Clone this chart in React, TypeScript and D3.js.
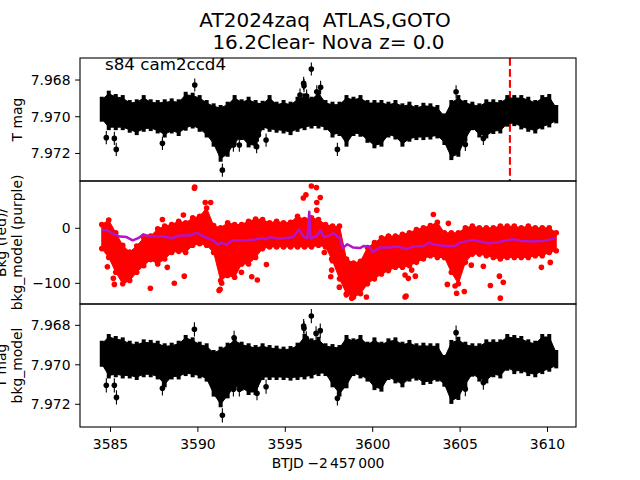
import React from "react";
import * as d3 from "d3";

const bandTimes = [3584.5,3584.9,3585.3,3585.7,3586.1,3586.5,3586.9,3587.3,3587.7,3588.1,3588.5,3588.9,3589.3,3589.7,3590.1,3590.5,3590.9,3591.3,3591.7,3592.1,3592.5,3592.9,3593.3,3593.7,3594.1,3594.5,3594.9,3595.3,3595.7,3596.1,3596.5,3596.9,3597.3,3597.7,3598.1,3598.5,3598.9,3599.3,3599.7,3600.1,3600.5,3600.9,3601.3,3601.7,3602.1,3602.5,3602.9,3603.3,3603.7,3604.1,3604.5,3604.9,3605.3,3605.7,3606.1,3606.5,3606.9,3607.3,3607.7,3608.1,3608.5,3608.9,3609.3,3609.7,3610.1,3610.5];

// T mag, millimag offsets from 7.970
const magBase = 7.97;
const tmagUpper = [-1.09,-1.42,-1.24,-1.18,-.91,-.95,-1.18,-.95,-.91,-.95,-1.0,-.95,-1.36,-1.31,-1.18,-.91,-.73,-.64,-.82,-1.18,-.95,-1.09,-.91,-.87,-1.18,-.82,-.91,-.82,-1.09,-1.27,-1.09,-1.45,-.91,-.82,-.82,-1.18,-1.09,-1.18,-.91,-.91,-.91,-.82,-.91,-.73,-.82,-.64,-.76,-.73,-.64,-.18,-.91,-1.18,-.91,-.82,-.73,-.95,-.95,-.91,-1.18,-1.18,-1.18,-1.09,-.91,-1.18,-1.24,-.64];
const tmagLower = [.27,.73,.73,.73,.87,1.0,.82,.78,.91,1.13,.91,1.05,.76,.64,.82,1.13,1.63,2.45,2.18,1.54,1.27,1.67,1.72,.73,.82,.87,.91,1.0,.82,.73,.64,.64,.73,1.13,1.05,1.63,1.05,1.09,1.42,1.72,1.63,1.13,1.24,1.63,1.36,1.27,1.27,1.24,1.18,1.54,2.36,2.18,1.36,.73,1.13,1.18,.94,.91,.54,.51,.69,.82,.91,.69,.58,.36];
const tmagOutT = [3589.82,3596.49,3596.05,3596.07,3595.84,3596.22,3596.8,3597.02,3584.76,3585.22,3585.33,3587.97,3591.4,3592.03,3592.37,3593.46,3593.36,3593.9,3597.98,3605.3,3604.9,3604.77,3606.33];
const tmagOutV = [-1.73,-2.6,-1.82,-1.69,-1.18,-1.13,-1.36,-1.6,1.14,1.18,1.78,1.45,2.91,1.54,1.54,1.0,1.63,1.27,1.78,1.51,1.63,-1.36,1.18];

// Background flux
const bkgUpper = [12,20,-3,-26,-38,-27,-12,-9,4,9,12,18,15,24,27,42,10,6,15,12,12,18,22,21,15,18,15,16,27,21,24,21,12,9,9,-51,-58,-55,-30,-21,-12,-9,-9,-6,-3,3,6,10,16,-3,-3,-3,6,9,6,6,6,9,9,9,6,9,6,6,6,-3];
const bkgLower = [-42,-58,-85,-106,-100,-85,-73,-62,-70,-61,-49,-47,-49,-36,-33,-36,-49,-100,-91,-94,-70,-70,-58,-42,-39,-39,-39,-39,-39,-39,-39,-36,-39,-64,-97,-124,-130,-124,-106,-97,-88,-82,-76,-76,-73,-67,-61,-55,-58,-58,-85,-106,-67,-52,-52,-55,-58,-61,-58,-58,-58,-58,-55,-55,-49,-46];
const bkgOutT = [3589.8,3589.82,3596.49,3596.78,3597.0,3596.18,3596.03,3596.8,3596.8,3590.42,3590.73,3587.97,3589.17,3587.28,3588.65,3589.22,3585.16,3585.22,3584.82,3591.21,3591.27,3591.36,3593.08,3593.4,3593.92,3592.49,3597.23,3597.65,3597.65,3597.6,3598.09,3588.25,3603.47,3604.33,3598.49,3598.8,3599.64,3601.91,3601.85,3604.27,3605.24,3604.8,3604.71,3605.64,3606.33,3606.73,3607.25,3607.47,3607.3,3609.65,3610.16,3601.85,3602.04,3602.44,3602.23];
const bkgOutV = [73,75,77,74,56,61,55,47,33,47,47,16,24,-109,-100,-87,-91,-102,-70,-113,-111,-100,-88,-94,-66,-80,-44,-56,-76,-88,-107,-71,25,9,-121,-127,-125,-123,-125,-102,-115,-118,-105,-67,-69,-104,-87,-98,-127,-71,-62,-85,-91,-87,-76];
const modelT = [3584.5,3584.78,3585.16,3585.54,3585.92,3586.27,3586.59,3586.88,3587.16,3587.64,3588.02,3588.5,3588.98,3589.55,3589.93,3590.41,3590.88,3591.17,3591.36,3591.65,3591.93,3592.31,3592.6,3593.17,3593.65,3593.84,3594.12,3594.7,3595.46,3595.78,3596.07,3596.26,3596.37,3596.45,3596.8,3597.02,3597.21,3597.46,3597.75,3598.13,3598.28,3598.55,3598.89,3599.27,3599.5,3599.85,3600.0,3600.42,3600.99,3601.47,3601.94,3602.33,3602.9,3603.24,3603.56,3604.23,3604.71,3605.0,3605.76,3606.14,3606.62,3607.09,3607.47,3608.05,3608.52,3609.19,3609.66,3610.05,3610.43];
const modelV = [-3,-3,-10,-15,-16,-22,-18,-11,-14,-15,-15,-18,-13,-13,-8,-16,-22,-30,-26,-30,-22,-22,-22,-21,-18,-20,-16,-19,-16,-2,-16,-18,30,-18,-14,-3,-16,-14,-9,-18,-36,-29,-35,-36,-32,-35,-43,-35,-35,-33,-38,-33,-32,-26,-30,-32,-32,-26,-21,-24,-27,-26,-23,-20,-23,-24,-23,-21,-18];

// T mag minus model, millimag offsets from 7.970
const corrUpper = [-1.22,-1.56,-1.46,-1.39,-1.22,-1.17,-1.29,-1.26,-1.22,-1.09,-1.12,-1.22,-1.51,-1.39,-1.17,-1.09,-.75,-.92,-1.12,-1.39,-1.17,-1.09,-1.0,-1.09,-1.0,-.97,-.92,-.95,-1.12,-1.56,-1.34,-1.42,-1.09,-1.05,-1.0,-1.51,-1.34,-1.51,-1.17,-1.39,-1.17,-1.34,-1.39,-1.17,-1.26,-1.09,-1.12,-1.09,-1.09,-.5,-1.26,-1.42,-1.17,-1.09,-1.09,-1.29,-1.29,-1.29,-1.56,-1.51,-1.46,-1.29,-1.22,-1.56,-1.56,-.75];
const corrLower = [.10,.69,.63,.69,.69,.77,.63,.63,.74,1.14,.74,.74,.57,.63,.69,.85,1.61,2.15,1.70,1.24,1.31,1.53,1.53,.77,.77,.77,.77,.80,.77,.74,.69,.57,.57,1.14,1.61,1.19,.57,.69,.85,1.28,1.36,.77,.94,1.14,.85,.80,1.02,.97,.85,1.11,1.98,1.78,1.14,.60,.85,.94,.63,.69,.30,.47,.43,.57,.63,.47,.35,.18];
const corrOutT = [3589.8,3596.49,3596.05,3596.07,3596.2,3596.76,3597.0,3592.07,3584.76,3585.22,3585.34,3587.97,3591.4,3592.03,3592.37,3593.38,3593.46,3593.9,3597.98,3604.77,3605.3,3604.9,3606.33];
const corrOutV = [-1.8,-2.47,-1.96,-1.85,-1.34,-1.59,-1.73,-1.37,1.04,1.04,1.65,1.19,2.56,1.24,1.24,1.44,.77,1.11,1.7,-1.63,1.23,1.24,.9];

const outlierErr = 0.36;
const eventTime = 3607.85;
const magTicks = [7.968, 7.97, 7.972];
const bkgTicks = [0, -100];
const xTicks = [3585, 3590, 3595, 3600, 3605, 3610];
const titleLines = ["AT2024zaq  ATLAS,GOTO", "16.2Clear- Nova z= 0.0"];
const FONT = "'DejaVu Sans'";

const L = 80, R = 576;
const DOT = 2.8;
const TOOTH = 3;
const x = d3.scaleLinear().domain([3583.255, 3611.63]).range([L, R]);
const y1 = d3.scaleLinear().domain([7.9668, 7.9735]).range([58, 181]);
const y2 = d3.scaleLinear().domain([86, -137.6]).range([181, 304]);
const y3 = d3.scaleLinear().domain([7.96692, 7.97315]).range([304, 427]);

function YAxis({ scale, ticks, fmt }: any) {
  return (
    <g>
      {ticks.map((t: number) => (
        <g key={t}>
          <line x1={L - 4.9} x2={L} y1={scale(t)} y2={scale(t)} stroke="#000" strokeWidth={1} />
          <text x={L - 9.5} y={scale(t) + 5} textAnchor="end" fontSize={13.9}>{fmt(t)}</text>
        </g>
      ))}
    </g>
  );
}

function MagBand({ scale, upper, lower, outT, outV }: any) {
  const area = d3.area<number>()
    .x((t) => x(t))
    .y0((_, i) => scale(magBase + upper[i] / 1000) + TOOTH)
    .y1((_, i) => scale(magBase + lower[i] / 1000) - TOOTH);
  return (
    <g>
      <path d={area(bandTimes) || ""} fill="#000" stroke="#000" strokeWidth={1} strokeLinejoin="round" />
      {bandTimes.map((t: number, i: number) => (
        <line key={i} x1={x(t)} x2={x(t)} stroke="#000" strokeWidth={4}
          y1={scale(magBase + upper[i] / 1000)}
          y2={scale(magBase + lower[i] / 1000)} />
      ))}
      {outT.map((t: number, i: number) => (
        <g key={i}>
          <line x1={x(t)} x2={x(t)} stroke="#000" strokeWidth={1.1}
            y1={scale(magBase + (outV[i] - outlierErr) / 1000)}
            y2={scale(magBase + (outV[i] + outlierErr) / 1000)} />
          <circle cx={x(t)} cy={scale(magBase + outV[i] / 1000)} r={2.8} fill="#000" />
        </g>
      ))}
    </g>
  );
}

export default function App() {
  const bkgArea = d3.area<number>()
    .x((t) => x(t))
    .y0((_, i) => y2(bkgUpper[i]) + DOT)
    .y1((_, i) => y2(bkgLower[i]) - DOT);
  const modelLine = d3.line<number>().x((t) => x(t)).y((_, i) => y2(modelV[i]));
  const panels: [number, number][] = [[58, 123], [181, 123], [304, 123]];
  return (
    <svg width={640} height={480} style={{ position: "absolute", left: 0, top: 0 }} fontFamily={FONT} fill="#000">
      <rect width={640} height={480} fill="#fff" />
      <text x={325} y={27} textAnchor="middle" fontSize={20} style={{ whiteSpace: "pre" }}>{titleLines[0]}</text>
      <text x={328.5} y={49} textAnchor="middle" fontSize={20} style={{ whiteSpace: "pre" }}>{titleLines[1]}</text>

      <line x1={x(eventTime)} x2={x(eventTime)} y1={58} y2={181} stroke="#f00" strokeWidth={2.1} strokeDasharray="7.7 3.3" />
      <MagBand scale={y1} upper={tmagUpper} lower={tmagLower} outT={tmagOutT} outV={tmagOutV} />
      <text x={105} y={70} fontSize={16.7}>s84 cam2ccd4</text>

      <path d={bkgArea(bandTimes) || ""} fill="#f00" stroke="#f00" strokeWidth={1} strokeLinejoin="round" />
      {bandTimes.map((t, i) => (
        <g key={i}>
          <circle cx={x(t)} cy={y2(bkgUpper[i]) + DOT} r={DOT} fill="#f00" />
          <circle cx={x(t)} cy={y2(bkgLower[i]) - DOT} r={DOT} fill="#f00" />
        </g>
      ))}
      {bkgOutT.map((t, i) => (
        <circle key={i} cx={x(t)} cy={y2(bkgOutV[i])} r={DOT} fill="#f00" />
      ))}
      <path d={modelLine(modelT) || ""} fill="none" stroke="#b414c8" strokeWidth={2.5} strokeLinejoin="round" />

      <MagBand scale={y3} upper={corrUpper} lower={corrLower} outT={corrOutT} outV={corrOutV} />

      {panels.map(([t, h]) => (
        <rect key={t} x={L} y={t} width={R - L} height={h} fill="none" stroke="#000" strokeWidth={1.1} />
      ))}
      <YAxis scale={y1} ticks={magTicks} fmt={(v: number) => v.toFixed(3)} />
      <YAxis scale={y2} ticks={bkgTicks} fmt={(v: number) => (v < 0 ? "\u2212" + Math.abs(v) : String(v))} />
      <YAxis scale={y3} ticks={magTicks} fmt={(v: number) => v.toFixed(3)} />
      {xTicks.map((t) => (
        <g key={t}>
          <line x1={x(t)} x2={x(t)} y1={427} y2={431.9} stroke="#000" strokeWidth={1} />
          <text x={x(t)} y={449} textAnchor="middle" fontSize={13.9}>{t}</text>
        </g>
      ))}
      <text x={328} y={468} textAnchor="middle" fontSize={13.9} textLength={112.6} lengthAdjust="spacing">{"BTJD \u22122\u2009457\u2009000"}</text>

      <text transform="translate(21.7,119.5) rotate(-90)" textAnchor="middle" fontSize={13.9}>T mag</text>
      <text transform="translate(5.5,242.5) rotate(-90)" textAnchor="middle" fontSize={13.9}>Bkg (red)/</text>
      <text transform="translate(21.7,242.5) rotate(-90)" textAnchor="middle" fontSize={13.9}>bkg_model (purple)</text>
      <text transform="translate(5.5,365.5) rotate(-90)" textAnchor="middle" fontSize={13.9}>T mag</text>
      <text transform="translate(21.7,365.5) rotate(-90)" textAnchor="middle" fontSize={13.9}>bkg_model</text>
    </svg>
  );
}
